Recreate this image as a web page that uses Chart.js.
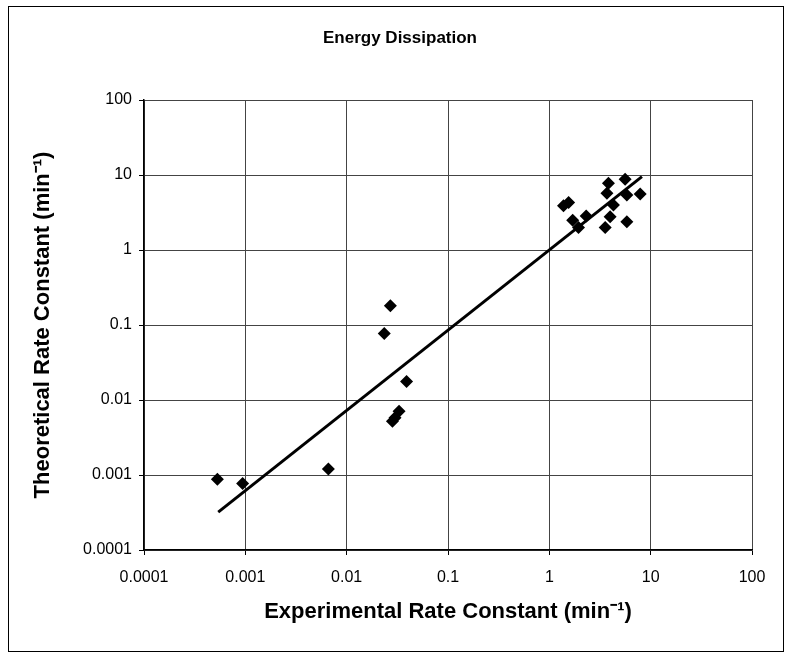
<!DOCTYPE html>
<html><head><meta charset="utf-8">
<script src="https://cdn.jsdelivr.net/npm/chart.js@4/dist/chart.umd.min.js"></script>
<style>html,body{margin:0;padding:0;background:#fff}#wrap{position:relative;width:785px;height:653px}</style>
</head><body><div id="wrap"><canvas id="c" width="785" height="653"></canvas></div>
<script>
const chartTitle = 'Energy Dissipation';
const xAxisTitle = 'Experimental Rate Constant (min\u207B\u00B9)';
const yAxisTitle = 'Theoretical Rate Constant (min\u207B\u00B9)';
const tickValues = [0.0001, 0.001, 0.01, 0.1, 1, 10, 100];
const tickLabels = ['0.0001', '0.001', '0.01', '0.1', '1', '10', '100'];

const expRate  = [0.00053, 0.00094, 0.0066, 0.0235, 0.027, 0.039, 0.0283, 0.0300, 0.0329,
                  1.38, 1.55, 1.70, 1.94, 2.31, 3.56, 3.70, 3.83, 3.98, 4.29, 5.6, 5.82, 5.82, 7.88];
const theoRate = [0.00088, 0.00077, 0.0012, 0.077, 0.18, 0.0177, 0.0052, 0.0058, 0.0071,
                  3.9, 4.3, 2.5, 2.0, 2.84, 2.0, 5.69, 7.75, 2.78, 3.98, 8.77, 5.41, 2.38, 5.56];

const trendX = [0.00054, 8.2];
const trendY = [0.00032, 9.5];

const pts = expRate.map((x, i) => ({x: x, y: theoRate[i]}));
const trend = trendX.map((x, i) => ({x: x, y: trendY[i]}));

const framePlugin = {
  id: 'frame',
  beforeDraw(chart) {
    const ctx = chart.ctx;
    ctx.save();
    ctx.fillStyle = '#fff';
    ctx.fillRect(0, 0, chart.width, chart.height);
    ctx.strokeStyle = '#000';
    ctx.lineWidth = 1;
    ctx.strokeRect(8.5, 6.5, 775, 645);
    ctx.restore();
  },
  afterDraw(chart) {
    const ctx = chart.ctx;
    ctx.save();
    ctx.fillStyle = '#000';
    ctx.font = 'bold 17px "Liberation Sans", Arial, sans-serif';
    ctx.textAlign = 'center';
    ctx.textBaseline = 'middle';
    ctx.fillText(chartTitle, 400, 38);
    ctx.restore();
  }
};

const tickFont = {family: '"Liberation Sans", Arial, sans-serif', size: 16};
const titleFont = {family: '"Liberation Sans", Arial, sans-serif', size: 22, weight: 'bold'};

new Chart(document.getElementById('c'), {
  type: 'scatter',
  data: {
    datasets: [
      {
        data: pts,
        pointStyle: 'rectRot',
        pointRadius: 6.5,
        pointHoverRadius: 6.5,
        backgroundColor: '#000',
        borderColor: '#000',
        borderWidth: 0,
        order: 1
      },
      {
        data: trend,
        showLine: true,
        pointRadius: 0,
        borderColor: '#000',
        borderWidth: 3,
        fill: false,
        order: 0
      }
    ]
  },
  options: {
    responsive: false,
    animation: false,
    devicePixelRatio: 1,
    layout: {padding: {top: 100, left: 29, right: 33, bottom: 0}},
    plugins: {legend: {display: false}, tooltip: {enabled: false}, title: {display: false}},
    scales: {
      x: {
        type: 'logarithmic',
        min: 0.0001, max: 100,
        afterBuildTicks: s => { s.ticks = tickValues.map(v => ({value: v})); },
        afterFit: s => { s.height = 103; },
        ticks: {
          callback: (v, i) => tickLabels[i],
          font: tickFont, color: '#000', padding: 13, maxRotation: 0, autoSkip: false
        },
        grid: {color: '#444', lineWidth: 1, tickLength: 5, tickColor: '#000', drawTicks: true},
        border: {color: '#000', width: 1.5},
        title: {display: true, text: xAxisTitle, font: titleFont, color: '#000', padding: {top: 4, bottom: 28}}
      },
      y: {
        type: 'logarithmic',
        min: 0.0001, max: 100,
        afterBuildTicks: s => { s.ticks = tickValues.map(v => ({value: v})); },
        afterFit: s => { s.width = 115; },
        ticks: {
          callback: (v, i) => tickLabels[i],
          font: tickFont, color: '#000', padding: 7, autoSkip: false
        },
        grid: {color: '#444', lineWidth: 1, tickLength: 5, tickColor: '#000', drawTicks: true},
        border: {color: '#000', width: 1.5},
        title: {display: true, text: yAxisTitle, font: titleFont, color: '#000', padding: {top: 1, bottom: 4}}
      }
    }
  },
  plugins: [framePlugin]
});
</script>
</body></html>
